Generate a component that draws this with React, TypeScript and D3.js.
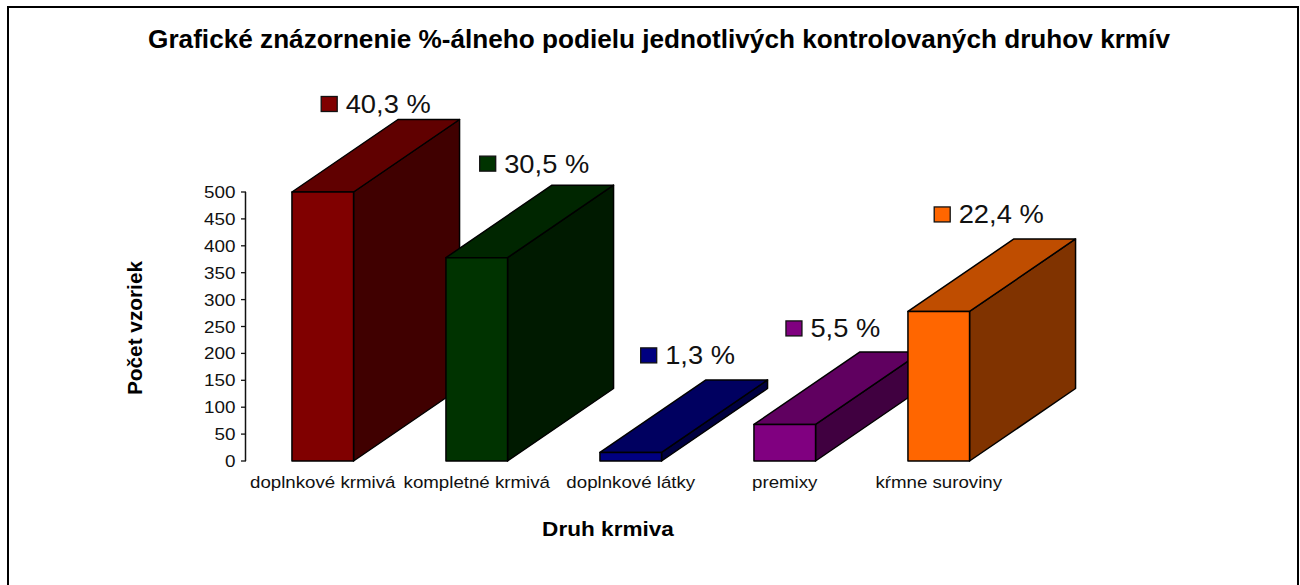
import React from "react";
import * as d3 from "d3";

const categories = ["doplnkové krmivá", "kompletné krmivá", "doplnkové látky", "premixy", "kŕmne suroviny"];
const counts = [500, 378, 16, 68, 278];
const percentLabels = ["40,3 %", "30,5 %", "1,3 %", "5,5 %", "22,4 %"];
const frontColors = ["#800000", "#003300", "#000080", "#800080", "#ff6600"];
const topColors = ["#600000", "#002600", "#000060", "#600060", "#bf4d00"];
const sideColors = ["#400000", "#001a00", "#000040", "#400040", "#803300"];
const yTicks = [0, 50, 100, 150, 200, 250, 300, 350, 400, 450, 500];

const W = 1300;
const H = 585;
const font = "'Liberation Sans', Arial, sans-serif";
const axisX = 246;
const depthX = 106;
const depthY = 72.5;
const y = d3.scaleLinear().domain([0, 500]).range([461, 192]);
const x = d3.scaleBand().domain(categories).range([axisX - 0.25, axisX + 769.75]).paddingInner(0.6).paddingOuter(0.3);
const labelOffsetX = [29.25, 33.75, 40.75, 32, 26.25];
const labelOffsetY = [-15.5, -21.5, -24.5, -23.5, -24.5];
const line = d3.line();

function Stretched({ x: px, y: py, sx, anchor, children, ...rest }: any) {
  return (
    <text transform={`translate(${px},${py}) scale(${sx},1)`} textAnchor={anchor} {...rest}>
      {children}
    </text>
  );
}

export default function App() {
  return (
    <svg width={W} height={H} style={{ position: "absolute", left: 0, top: 0, background: "#fff" }} fontFamily={font}>
      <path d={`M8,${H}V7H1298V${H}`} fill="none" stroke="#000" strokeWidth={2} />
      <Stretched x={659} y={47.5} sx={1.047} anchor="middle" fontSize={25} fontWeight="bold">
        Grafické znázornenie %-álneho podielu jednotlivých kontrolovaných druhov krmív
      </Stretched>

      <line x1={axisX - 0.5} x2={axisX - 0.5} y1={y(500)} y2={y(0)} stroke="#111" strokeWidth={1.5} />
      {yTicks.map((t) => (
        <g key={t}>
          <line x1={axisX - 5} x2={axisX} y1={y(t)} y2={y(t)} stroke="#111" strokeWidth={1.3} />
          <Stretched x={235.5} y={y(t) + 6} sx={1.11} anchor="end" fontSize={17} fill="#111">{t}</Stretched>
        </g>
      ))}

      {categories.map((c, i) => {
        const x0 = x(c)!;
        const x1 = x0 + x.bandwidth();
        const yt = y(counts[i]);
        const yb = y(0);
        const top = line([[x0, yt], [x0 + depthX, yt - depthY], [x1 + depthX, yt - depthY], [x1, yt]])! + "Z";
        const side = line([[x1, yt], [x1 + depthX, yt - depthY], [x1 + depthX, yb - depthY], [x1, yb]])! + "Z";
        return (
          <g key={c} stroke="#000" strokeWidth={1.5} strokeLinejoin="round">
            <path d={side} fill={sideColors[i]} />
            <path d={top} fill={topColors[i]} />
            <rect x={x0} y={yt} width={x.bandwidth()} height={yb - yt} fill={frontColors[i]} />
          </g>
        );
      })}

      {categories.map((c, i) => {
        const lx = x(c)! + labelOffsetX[i];
        const ly = y(counts[i]) - depthY + labelOffsetY[i];
        return (
          <g key={c}>
            <rect x={lx} y={ly - 7.5} width={16} height={15} fill={frontColors[i]} stroke="#111" strokeWidth={1.3} />
            <Stretched x={lx + 24.5} y={ly + 9} sx={1.03} fontSize={26.5} fill="#111">{percentLabels[i]}</Stretched>
          </g>
        );
      })}

      {categories.map((c) => (
        <Stretched key={c} x={x(c)! + x.bandwidth() / 2} y={487.5} sx={1.1} anchor="middle" fontSize={17} fill="#111">{c}</Stretched>
      ))}

      <Stretched x={608} y={536} sx={1.13} anchor="middle" fontSize={20} fontWeight="bold">Druh krmiva</Stretched>
      <text transform="translate(141.5,328) rotate(-90) scale(1.04,1)" textAnchor="middle" fontSize={20} fontWeight="bold">Počet vzoriek</text>
    </svg>
  );
}
